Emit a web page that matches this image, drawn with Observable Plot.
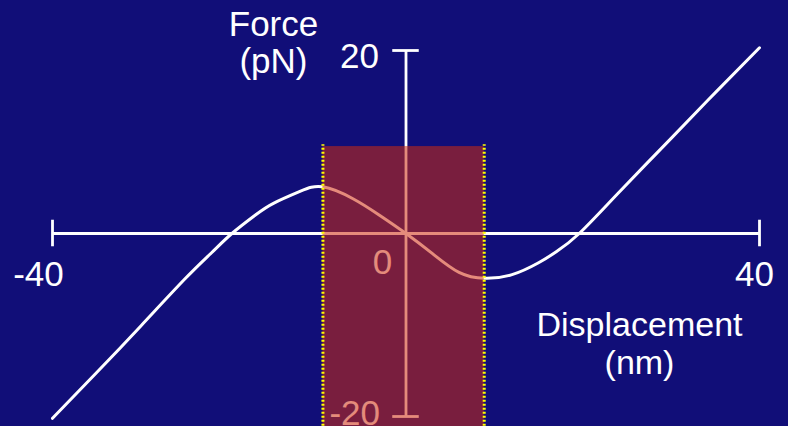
<!DOCTYPE html>
<html>
<head>
<meta charset="utf-8">
<script src="https://cdn.jsdelivr.net/npm/d3@7"></script>
<script src="https://cdn.jsdelivr.net/npm/@observablehq/plot@0.6"></script>
<style>
  html, body { margin: 0; padding: 0; background: #110e78; overflow: hidden; }
  #chart svg { display: block; }
</style>
</head>
<body>
<div id="chart"></div>
<script>
// Force–displacement relation of the spring (nm vs pN)
const displacement = [-40, -35, -30, -25, -22, -19.7, -17, -15, -12, -9.4, -6, -3, 0, 3, 6, 8.9, 12, 15, 17, 19.6, 24, 30, 35, 40];
const force        = [-20.2, -15.2, -10.1, -4.95, -2.1, 0, 2.05, 3.3, 4.6, 5.1, 3.8, 2.0, 0, -2.2, -4.25, -4.9, -4.5, -3.2, -2.0, 0, 4.4, 10.4, 15.4, 20.3];

// Axis extents and labelled ticks
const xTicks = [-40, 40];
const yTicks = [-20, 20];
const originLabel = ["0"];

// Highlighted range of displacement (negative-stiffness region)
const bandX = [-9.4, 8.85];
const bandTop = 9.5;
const bandBottom = -21.5;

const curve = displacement.map((d, i) => ({x: d, y: force[i]}));
const band = [{x1: bandX[0], x2: bandX[1], y1: bandBottom, y2: bandTop}];

const font = "'Liberation Sans', Arial, Helvetica, sans-serif";
const ink = "white";
const size = 35;

const chart = Plot.plot({
  width: 788,
  height: 426,
  marginLeft: 52,
  marginRight: 29,
  marginTop: 50,
  marginBottom: 10,
  x: {domain: [-40, 40], axis: null},
  y: {domain: [-20, 20], axis: null},
  style: {background: "#110e78", fontFamily: font, overflow: "hidden"},
  marks: [
    // axes crossing at the origin
    Plot.ruleY([0], {x1: xTicks[0], x2: xTicks[1], stroke: ink, strokeWidth: 2.8}),
    Plot.ruleX([0], {y1: yTicks[0], y2: yTicks[1], stroke: ink, strokeWidth: 2.8}),
    // end caps
    Plot.ruleX(xTicks, {y1: -1.45, y2: 1.45, stroke: ink, strokeWidth: 2.8}),
    Plot.ruleY(yTicks, {x1: -1.5, x2: 1.5, stroke: ink, strokeWidth: 2.8}),
    // tick labels
    Plot.text([xTicks[0]], {x: d => d, y: 0, text: d => String(d), dx: -14, dy: 41, fill: ink, fontSize: size}),
    Plot.text([xTicks[1]], {x: d => d, y: 0, text: d => String(d), dx: -5, dy: 41, fill: ink, fontSize: size}),
    Plot.text([yTicks[1]], {x: 0, y: d => d, text: d => String(d), textAnchor: "end", dx: -27, dy: 6, fill: ink, fontSize: size}),
    Plot.text([yTicks[0]], {x: 0, y: d => d, text: d => String(d), textAnchor: "end", dx: -26, dy: -3, fill: ink, fontSize: size}),
    Plot.text(originLabel, {x: 0, y: 0, text: d => d, dx: -23.5, dy: 29.5, fill: ink, fontSize: size}),
    // axis titles
    Plot.text(["Force\n(pN)"], {x: 0, y: yTicks[1], text: d => d, dx: -132.5, dy: -7.8, lineHeight: 1.07, fill: ink, fontSize: size}),
    Plot.text(["Displacement\n(nm)"], {x: xTicks[1], y: 0, text: d => d, dx: -120, dy: 109, lineHeight: 1.12, fill: ink, fontSize: 34}),
    // the force curve
    Plot.line(curve, {x: "x", y: "y", curve: "natural", stroke: ink, strokeWidth: 3}),
    // translucent red highlight over the central region
    Plot.rect(band, {x1: "x1", x2: "x2", y1: "y1", y2: "y2", fill: "#cf2b0f", fillOpacity: 0.55}),
    // dotted yellow edges of the highlight
    Plot.ruleX(bandX, {y1: bandBottom, y2: bandTop + 0.2, stroke: "#ffff00", strokeWidth: 3, strokeDasharray: "2,2"})
  ]
});

document.getElementById("chart").appendChild(chart);
</script>
</body>
</html>
